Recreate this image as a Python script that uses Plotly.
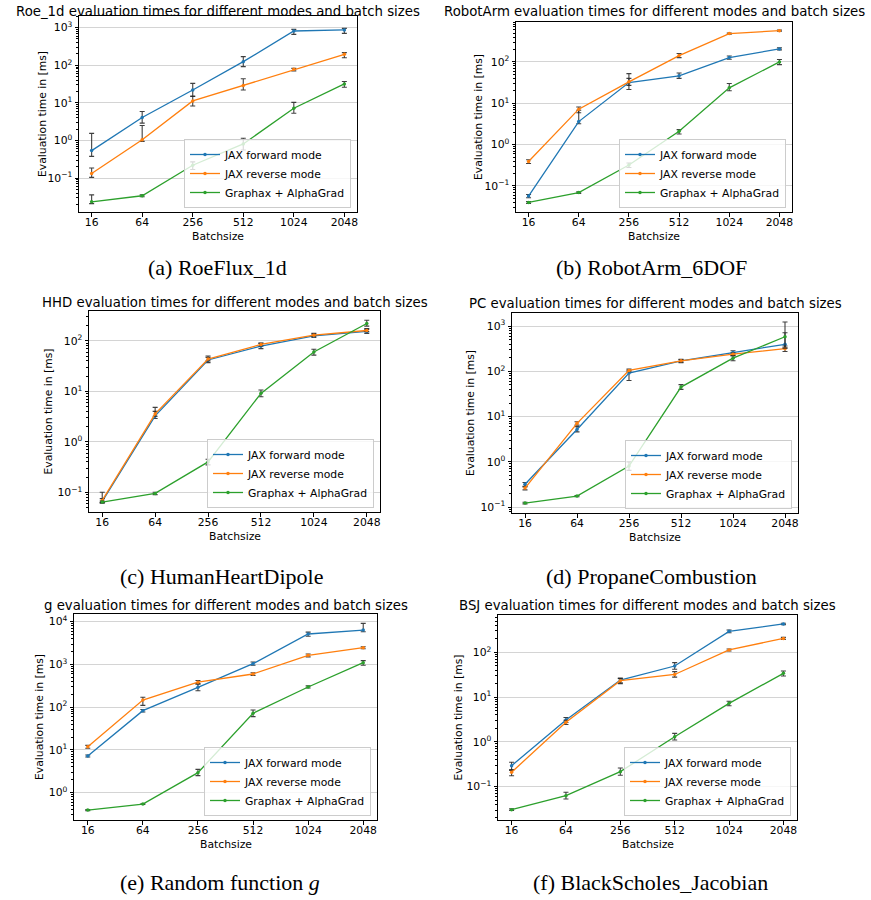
import math
import plotly.graph_objects as go

# ---------------- data ----------------
batch_sizes = ["16", "64", "256", "512", "1024", "2048"]
series_names = ["JAX forward mode", "JAX reverse mode", "Graphax + AlphaGrad"]

# (a) RoeFlux_1d
roe_fwd = [0.54, 4.1, 22, 125, 815, 870]
roe_fwd_hi = [1.55, 5.9, 33, 170, 900, 960]
roe_fwd_lo = [0.38, 2.9, 14.8, 92, 665, 705]
roe_rev = [0.133, 1.05, 11.3, 29, 78, 196]
roe_rev_hi = [0.186, 2.5, 15.3, 44, 83, 217]
roe_rev_lo = [0.105, 0.95, 8.3, 22, 71, 158]
roe_gx = [0.0235, 0.034, 0.22, 0.81, 7.2, 32]
roe_gx_hi = [0.036, 0.036, 0.27, 1.15, 10.3, 37]
roe_gx_lo = [0.021, 0.032, 0.17, 0.56, 5.3, 26]

# (b) RobotArm_6DOF
robot_fwd = [0.057, 3.6, 31.7, 46, 127, 206]
robot_fwd_hi = [0.062, 6.8, 52, 54, 139, 218]
robot_fwd_lo = [0.052, 3.2, 21.5, 40, 116, 195]
robot_rev = [0.39, 7.2, 33, 142, 483, 570]
robot_rev_hi = [0.43, 8.1, 40, 160, 500, 590]
robot_rev_lo = [0.35, 5.9, 27, 127, 466, 550]
robot_gx = [0.040, 0.069, 0.32, 2.1, 23.6, 100]
robot_gx_hi = [0.042, 0.072, 0.36, 2.3, 30, 114]
robot_gx_lo = [0.038, 0.066, 0.28, 1.8, 20, 86]

# (c) HumanHeartDipole
hhd_fwd = [0.066, 3.26, 41.7, 78.5, 125, 153]
hhd_fwd_hi = [0.10, 4.8, 50, 89, 140, 175]
hhd_fwd_lo = [0.062, 2.9, 37, 70, 116, 140]
hhd_rev = [0.069, 3.57, 43.5, 84.6, 129, 160]
hhd_rev_hi = [0.075, 4.0, 47, 90, 135, 168]
hhd_rev_lo = [0.063, 3.2, 40, 79, 123, 152]
hhd_gx = [0.064, 0.095, 0.40, 9.1, 60, 220]
hhd_gx_hi = [0.067, 0.10, 0.45, 10.6, 68, 255]
hhd_gx_lo = [0.061, 0.09, 0.35, 7.8, 52, 195]

# (d) PropaneCombustion
pc_fwd = [0.32, 5.2, 92, 171, 260, 397]
pc_fwd_hi = [0.35, 6.0, 105, 185, 285, 713]
pc_fwd_lo = [0.28, 4.6, 63, 155, 240, 330]
pc_rev = [0.264, 7.1, 105, 171, 240, 318]
pc_rev_hi = [0.29, 7.7, 112, 182, 255, 365]
pc_rev_lo = [0.24, 6.5, 98, 160, 225, 275]
pc_gx = [0.123, 0.175, 0.81, 45, 196, 583]
pc_gx_hi = [0.128, 0.18, 1.0, 51, 220, 1230]
pc_gx_lo = [0.118, 0.17, 0.65, 40, 172, 325]

# (e) Random function g
g_fwd = [7.2, 83, 292, 1040, 5150, 6380]
g_fwd_hi = [7.6, 88, 350, 1140, 5700, 9140]
g_fwd_lo = [6.8, 77, 243, 960, 4550, 5830]
g_rev = [11.9, 147, 385, 597, 1630, 2466]
g_rev_hi = [12.8, 170, 420, 640, 1750, 2600]
g_rev_lo = [10.9, 110, 350, 555, 1500, 2330]
g_gx = [0.39, 0.54, 2.94, 72, 297, 1100]
g_gx_hi = [0.40, 0.55, 3.5, 86, 315, 1230]
g_gx_lo = [0.38, 0.53, 2.5, 60, 280, 960]

# (f) BlackScholes_Jacobian
bsj_fwd = [0.294, 3.08, 24, 49.5, 294, 430]
bsj_fwd_hi = [0.35, 3.5, 26.5, 59, 315, 445]
bsj_fwd_lo = [0.23, 2.7, 21, 42, 274, 415]
bsj_rev = [0.21, 2.73, 23.3, 32, 113, 205]
bsj_rev_hi = [0.24, 3.05, 26, 37, 119, 216]
bsj_rev_lo = [0.175, 2.45, 20, 28, 107, 195]
bsj_gx = [0.0306, 0.063, 0.216, 1.3, 7.26, 34]
bsj_gx_hi = [0.032, 0.075, 0.26, 1.55, 8.1, 38.3]
bsj_gx_lo = [0.0295, 0.053, 0.18, 1.1, 6.4, 29.6]

titles = [
    "Roe_1d evaluation times for different modes and batch sizes",
    "RobotArm evaluation times for different modes and batch sizes",
    "HHD evaluation times for different modes and batch sizes",
    "PC evaluation times for different modes and batch sizes",
    "g evaluation times for different modes and batch sizes",
    "BSJ evaluation times for different modes and batch sizes",
]
captions = [
    "(a) RoeFlux_1d",
    "(b) RobotArm_6DOF",
    "(c) HumanHeartDipole",
    "(d) PropaneCombustion",
    "(e) Random function <i>g</i>",
    "(f) BlackScholes_Jacobian",
]
panel_series = [
    [(roe_fwd, roe_fwd_hi, roe_fwd_lo), (roe_rev, roe_rev_hi, roe_rev_lo), (roe_gx, roe_gx_hi, roe_gx_lo)],
    [(robot_fwd, robot_fwd_hi, robot_fwd_lo), (robot_rev, robot_rev_hi, robot_rev_lo), (robot_gx, robot_gx_hi, robot_gx_lo)],
    [(hhd_fwd, hhd_fwd_hi, hhd_fwd_lo), (hhd_rev, hhd_rev_hi, hhd_rev_lo), (hhd_gx, hhd_gx_hi, hhd_gx_lo)],
    [(pc_fwd, pc_fwd_hi, pc_fwd_lo), (pc_rev, pc_rev_hi, pc_rev_lo), (pc_gx, pc_gx_hi, pc_gx_lo)],
    [(g_fwd, g_fwd_hi, g_fwd_lo), (g_rev, g_rev_hi, g_rev_lo), (g_gx, g_gx_hi, g_gx_lo)],
    [(bsj_fwd, bsj_fwd_hi, bsj_fwd_lo), (bsj_rev, bsj_rev_hi, bsj_rev_lo), (bsj_gx, bsj_gx_hi, bsj_gx_lo)],
]

# ---------------- layout (pixel geometry, window coordinates) ----------------
W, H = 871, 900
# frame: left, right, top, bottom (px)
frames = [
    (79, 357, 16, 212),
    (516, 792, 22, 212),
    (89, 380, 311, 512),
    (512, 798, 313, 513),
    (74, 377, 614, 820),
    (498, 797, 615, 820),
]
y_ranges = [
    (-1.90, 3.31),
    (-1.63, 2.965),
    (-1.39, 2.59),
    (-1.13, 3.29),
    (-0.64, 4.18),
    (-1.745, 2.834),
]
title_y = [11, 12, 302, 303, 605, 605]
ylabel_x = [42, 478, 48, 470, 39, 458]
caption_pos = [(217, 268), (651, 268), (221, 576), (651, 576), (220, 882), (650, 882)]

colors = ["#1f77b4", "#ff7f0e", "#2ca02c"]
FONT = "DejaVu Sans"
SMALL = 10.8
TITLE = 13.3

def px_x(v):
    return v / W

def px_y(v):
    return 1 - v / H

def sup(k):
    s = str(k).replace("-", "\u2212")
    return "10<sup>" + s + "</sup>"

fig = go.Figure()
layout = dict(
    width=W, height=H,
    margin=dict(l=0, r=0, t=0, b=0),
    paper_bgcolor="white", plot_bgcolor="white",
    font=dict(family=FONT, size=SMALL, color="black"),
    annotations=[],
)

for i in range(6):
    n = i + 1
    suffix = "" if n == 1 else str(n)
    xa, ya = "xaxis" + suffix, "yaxis" + suffix
    xref, yref = "x" + suffix, "y" + suffix
    lg = "legend" + suffix
    l, r, t, b = frames[i]
    y0, y1 = y_ranges[i]

    for j, (vals, hi, lo) in enumerate(panel_series[i]):
        fig.add_trace(go.Scatter(
            x=batch_sizes, y=vals,
            mode="lines+markers",
            name=series_names[j],
            line=dict(color=colors[j], width=1.3),
            marker=dict(color=colors[j], size=3.5),
            error_y=dict(
                type="data", symmetric=False,
                array=[h - v for h, v in zip(hi, vals)],
                arrayminus=[v - lo_ for v, lo_ in zip(vals, lo)],
                color="rgba(30,30,30,0.85)", thickness=1.1, width=2.5,
            ),
            xaxis=xref, yaxis=yref, legend=lg,
        ))

    majors = list(range(math.ceil(y0), math.floor(y1) + 1))
    minors = []
    for k in range(math.floor(y0), math.ceil(y1) + 1):
        for m in range(2, 10):
            lv = math.log10(m * 10 ** k)
            if y0 <= lv <= y1:
                minors.append(m * 10 ** k)

    layout[xa] = dict(
        domain=[px_x(l), px_x(r)], anchor=yref,
        type="category", range=[-0.25, 5.25],
        showline=True, mirror=True, linecolor="black", linewidth=1,
        ticks="outside", ticklen=3.5, tickwidth=1, tickcolor="black",
        ticklabelstandoff=-3,
        showgrid=False, zeroline=False,
        tickfont=dict(family=FONT, size=SMALL, color="black"),
    )
    layout[ya] = dict(
        domain=[px_y(b), px_y(t)], anchor=xref,
        type="log", range=[y0, y1],
        tickmode="array", tickvals=[10 ** k for k in majors],
        ticktext=[sup(k) for k in majors],
        showline=True, mirror=True, linecolor="black", linewidth=1,
        ticks="outside", ticklen=3.5, tickwidth=1, tickcolor="black",
        showgrid=True, gridcolor="#d4d4d4", gridwidth=1, zeroline=False,
        minor=dict(tickmode="array", tickvals=minors, ticks="outside",
                   ticklen=2, tickwidth=0.6, tickcolor="black", showgrid=False),
        tickfont=dict(family=FONT, size=SMALL, color="black"),
    )
    layout[lg] = dict(
        x=px_x(r - 6), y=px_y(b - 4), xanchor="right", yanchor="bottom",
        xref="paper", yref="paper",
        bgcolor="rgba(255,255,255,0.8)", bordercolor="#cccccc", borderwidth=1,
        font=dict(family=FONT, size=SMALL, color="black"),
        itemwidth=30, tracegroupgap=0,
    )

    cx = (l + r) / 2
    layout["annotations"].append(dict(
        text=titles[i], x=px_x(cx), y=px_y(title_y[i]), xref="paper", yref="paper",
        xanchor="center", yanchor="middle", showarrow=False,
        font=dict(family=FONT, size=TITLE, color="black"),
    ))
    layout["annotations"].append(dict(
        text="Evaluation time in [ms]", x=px_x(ylabel_x[i]), y=px_y((t + b) / 2),
        xref="paper", yref="paper", xanchor="center", yanchor="middle",
        textangle=-90, showarrow=False,
        font=dict(family=FONT, size=SMALL, color="black"),
    ))
    layout["annotations"].append(dict(
        text="Batchsize", x=px_x(cx), y=px_y(b + 24),
        xref="paper", yref="paper", xanchor="center", yanchor="middle",
        showarrow=False, font=dict(family=FONT, size=SMALL, color="black"),
    ))
    capx, capy = caption_pos[i]
    layout["annotations"].append(dict(
        text=captions[i], x=px_x(capx), y=px_y(capy),
        xref="paper", yref="paper", xanchor="center", yanchor="middle",
        showarrow=False, font=dict(family="Liberation Serif", size=22, color="black"),
    ))

fig.update_layout(**layout)
# remove the browser's default 8px page margin so the figure fills the window exactly
fig.write_html(
    "out.html",
    config={"displayModeBar": False},
    post_script="document.body.style.margin='0';document.body.style.overflow='hidden';",
)
